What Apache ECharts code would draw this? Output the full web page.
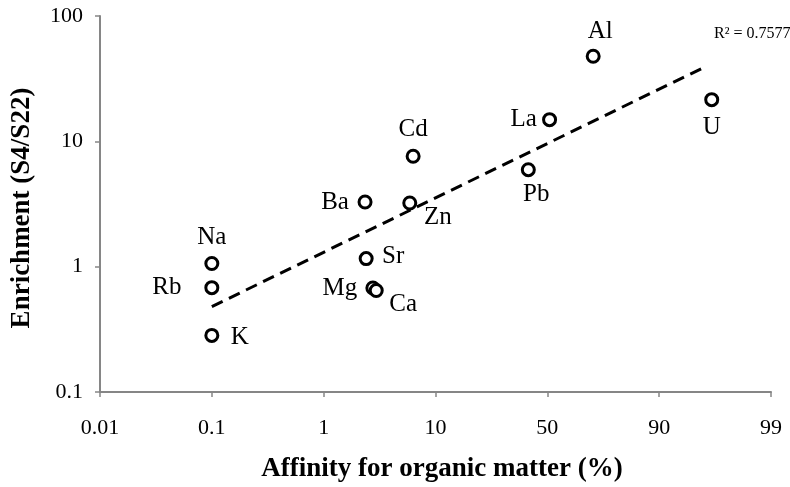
<!DOCTYPE html>
<html>
<head>
<meta charset="utf-8">
<script src="https://cdn.jsdelivr.net/npm/echarts@6/dist/echarts.min.js"></script>
<style>html,body{margin:0;padding:0;background:#fff}#c{width:790px;height:487px}</style>
</head>
<body>
<div id="c"></div>
<script>
// X axis is a probability scale: position index -> tick label
const xTickLabels = ['0.01', '0.1', '1', '10', '50', '90', '99'];
const elements = ['Na', 'Rb', 'K', 'Ba', 'Sr', 'Mg', 'Ca', 'Cd', 'Zn', 'La', 'Pb', 'Al', 'U'];
// x in axis position units (0 = 0.01 %, 1 = 0.1 %, ... 6 = 99 %)
const xPos = [1.0, 1.0, 1.0, 2.37, 2.38, 2.44, 2.47, 2.80, 2.77, 4.02, 3.83, 4.41, 5.47];
const enrichment = [1.06, 0.68, 0.283, 3.28, 1.16, 0.676, 0.645, 7.6, 3.22, 14.9, 5.94, 47.7, 21.5];
const trendX = [1.0, 5.39];
const trendY = [0.48, 38.5];
const r2Text = 'R² = 0.7577';

// label offsets (px) from marker centre
const labelOffset = {
  Na: [0, -26], Rb: [-45, 0], K: [28, 2], Ba: [-30, 0], Sr: [27, -2],
  Mg: [-33, 0], Ca: [27, 14], Cd: [0, -27], Zn: [28, 14], La: [-26, 0],
  Pb: [8, 25], Al: [7, -25], U: [0, 28]
};

const font = '"Liberation Serif", "Times New Roman", serif';
const axisGray = '#868686';

const scatterData = elements.map((e, i) => ({
  value: [xPos[i], enrichment[i]],
  name: e,
  label: {show: true, formatter: e, position: 'inside', offset: labelOffset[e]}
}));

const tickText = {fontFamily: font, fontSize: 22, color: '#000'};

const chart = echarts.init(document.getElementById('c'));
chart.setOption({
  animation: false,
  backgroundColor: '#fff',
  grid: {left: 100, right: 19, top: 16, bottom: 95, outerBoundsMode: 'none', containLabel: false},
  xAxis: {
    type: 'value', min: 0, max: 6, interval: 1,
    name: 'Affinity for organic matter (%)',
    nameLocation: 'middle', nameGap: 64,
    nameTextStyle: {fontFamily: font, fontWeight: 'bold', fontSize: 27, color: '#000', padding: [0, 0, 0, 13]},
    axisLine: {show: true, lineStyle: {color: axisGray, width: 2}},
    axisTick: {show: true, length: 5, lineStyle: {color: axisGray, width: 1.5}},
    splitLine: {show: false},
    axisLabel: {
      margin: 25,
      formatter: v => '{t|' + (xTickLabels[Math.round(v)] || '') + '}',
      rich: {t: tickText}
    }
  },
  yAxis: {
    type: 'log', logBase: 10, min: 0.1, max: 100,
    name: 'Enrichment (S4/S22)',
    nameLocation: 'middle', nameGap: 64,
    nameTextStyle: {fontFamily: font, fontWeight: 'bold', fontSize: 27, color: '#000', padding: [0, 8, 0, 0]},
    axisLine: {show: true, lineStyle: {color: axisGray, width: 2}},
    axisTick: {show: true, length: 5, lineStyle: {color: axisGray, width: 1.5}},
    splitLine: {show: false},
    minorTick: {show: false},
    axisLabel: {
      margin: 17,
      formatter: v => '{t|' + (v < 1 ? String(Math.round(v * 10) / 10) : String(Math.round(v))) + '}',
      rich: {t: tickText}
    }
  },
  series: [
    {
      type: 'line',
      data: trendX.map((x, i) => [x, trendY[i]]),
      symbol: 'none',
      lineStyle: {color: '#000', width: 3, type: [12, 7]},
      z: 1
    },
    {
      type: 'scatter',
      data: scatterData,
      symbol: 'circle',
      symbolSize: 12,
      itemStyle: {color: '#fff', borderColor: '#000', borderWidth: 3, opacity: 1},
      label: {fontFamily: font, fontSize: 25, color: '#000'},
      z: 3
    }
  ],
  graphic: [{
    type: 'text', left: 714, top: 26,
    style: {text: r2Text, font: '16px ' + font, fill: '#000'}
  }]
});
</script>
</body>
</html>
